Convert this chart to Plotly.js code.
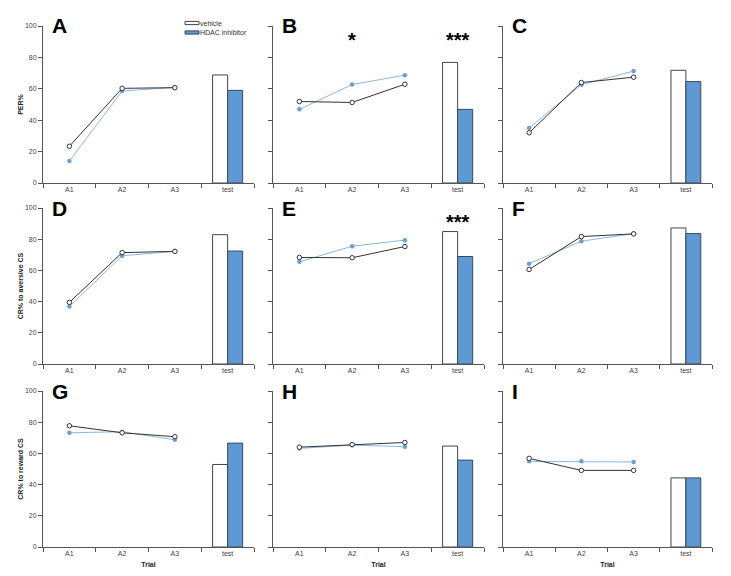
<!DOCTYPE html>
<html><head><meta charset="utf-8">
<script src="https://cdn.plot.ly/plotly-3.0.1.min.js"></script>
<style>html,body{margin:0;padding:0;background:#fff}#chart{width:731px;height:576px}</style>
</head><body><div id="chart"></div>
<script>
// ---- data ----
const trials = ['A1', 'A2', 'A3'];
const testLabel = ['test'];
const categories = ['A1', 'A2', 'A3', 'test'];
const panelLabels = ['A', 'B', 'C', 'D', 'E', 'F', 'G', 'H', 'I'];
const vehicleTrials = [
  [23.4, 60.3, 60.7],
  [51.9, 51.3, 62.9],
  [32.0, 64.0, 67.4],
  [39.5, 71.4, 72.2],
  [68.3, 68.1, 75.3],
  [60.6, 81.7, 83.4],
  [77.7, 73.2, 70.7],
  [64.0, 65.7, 67.0],
  [56.8, 49.1, 49.1]
];
const hdacTrials = [
  [14.0, 58.6, 60.9],
  [46.9, 62.7, 68.7],
  [35.1, 62.6, 71.3],
  [36.8, 69.4, 72.2],
  [65.5, 75.5, 79.4],
  [64.3, 78.7, 83.6],
  [73.2, 73.9, 68.7],
  [63.2, 65.3, 64.3],
  [54.9, 54.9, 54.5]
];
const vehicleTest = [68.8, 76.8, 71.8, 82.9, 84.9, 87.2, 52.9, 64.7, 44.3];
const hdacTest = [59.0, 46.9, 64.6, 72.4, 68.9, 83.6, 66.6, 55.7, 44.3];
const seriesNames = ['vehicle', 'HDAC inhibitor'];
const yTitles = ['PER%', 'CR% to aversive CS', 'CR% to reward CS'];
const xTitle = 'Trial';
const yTicks = [0, 20, 40, 60, 80, 100];
const significance = [
  {panel: 1, x: 'A2', text: '*'},
  {panel: 1, x: 'test', text: '***'},
  {panel: 4, x: 'test', text: '***'}
];

// ---- styles / geometry ----
const W = 731, H = 576;
const colPx = [[43, 254], [273, 484], [503, 712]];
const rowPx = [[26, 183], [208, 364], [391, 547]];
const FONT = 'Liberation Sans, Arial, sans-serif';
const axisColor = '#555';
const tickFontColor = '#444';
const vehicleFill = '#ffffff', vehicleEdge = '#444444';
const hdacFill = '#5f99d4', hdacEdge = '#3a4a5a';

const traces = [];
const layout = {
  width: W, height: H,
  margin: {l: 0, r: 0, t: 0, b: 0},
  paper_bgcolor: '#fff', plot_bgcolor: '#fff',
  barmode: 'group', bargap: 0.43, bargroupgap: 0,
  showlegend: false,
  font: {family: FONT},
  annotations: [],
  shapes: [],
  hovermode: false
};

for (let p = 0; p < 9; p++) {
  const r = Math.floor(p / 3), c = p % 3;
  const ax = p === 0 ? '' : String(p + 1);
  const xa = 'x' + ax, ya = 'y' + ax;
  const xDom = [colPx[c][0] / W, colPx[c][1] / W];
  const yDom = [1 - rowPx[r][1] / H, 1 - rowPx[r][0] / H];

  layout['xaxis' + ax] = {
    domain: xDom, anchor: ya, type: 'category',
    categoryorder: 'array', categoryarray: categories,
    range: [-0.5, 3.5], tickson: 'boundaries',
    ticks: 'outside', ticklen: 4, tickcolor: axisColor, tickwidth: 1,
    showline: true, linecolor: axisColor, linewidth: 1,
    showgrid: false, zeroline: false, fixedrange: true,
    tickfont: {family: FONT, size: 7, color: tickFontColor},
    title: r === 2 ? {text: '<b>' + xTitle + '</b>', font: {family: FONT, size: 7, color: '#222'}, standoff: 5} : {text: ''}
  };
  layout['yaxis' + ax] = {
    domain: yDom, anchor: xa, range: [0, 100],
    tickvals: yTicks, ticks: 'outside', ticklen: 4, tickcolor: axisColor, tickwidth: 1,
    showline: true, linecolor: axisColor, linewidth: 1,
    showgrid: false, zeroline: false, fixedrange: true,
    showticklabels: c === 0,
    tickfont: {family: FONT, size: 7, color: tickFontColor},
    title: c === 0 ? {text: '<b>' + yTitles[r] + '</b>', font: {family: FONT, size: 7, color: '#222'}, standoff: 0} : {text: ''}
  };

  traces.push({
    type: 'scatter', mode: 'lines+markers', x: trials, y: hdacTrials[p],
    xaxis: xa, yaxis: ya, name: seriesNames[1], cliponaxis: false,
    line: {color: '#8fb6e2', width: 1},
    marker: {size: 4.5, color: '#6a9fd8', line: {width: 0}}
  });
  traces.push({
    type: 'scatter', mode: 'lines+markers', x: trials, y: vehicleTrials[p],
    xaxis: xa, yaxis: ya, name: seriesNames[0], cliponaxis: false,
    line: {color: '#333', width: 1},
    marker: {size: 4.5, color: '#fff', line: {width: 1, color: '#333'}}
  });
  traces.push({
    type: 'bar', x: testLabel, y: [vehicleTest[p]], name: seriesNames[0],
    xaxis: xa, yaxis: ya,
    marker: {color: vehicleFill, line: {color: vehicleEdge, width: 1}}
  });
  traces.push({
    type: 'bar', x: testLabel, y: [hdacTest[p]], name: seriesNames[1],
    xaxis: xa, yaxis: ya,
    marker: {color: hdacFill, line: {color: hdacEdge, width: 1}}
  });

  layout.annotations.push({
    xref: xa + ' domain', yref: ya + ' domain', x: 0.035, y: 1.0,
    xanchor: 'left', yanchor: 'middle', showarrow: false,
    text: '<b>' + panelLabels[p] + '</b>',
    font: {family: FONT, size: 21, color: '#000'}
  });
}

significance.forEach(s => {
  const ax = s.panel === 0 ? '' : String(s.panel + 1);
  layout.annotations.push({
    xref: 'x' + ax, yref: 'y' + ax, x: s.x, y: 91,
    xanchor: 'center', yanchor: 'middle', showarrow: false,
    text: '<b>' + s.text + '</b>',
    font: {family: FONT, size: 20, color: '#000'}
  });
});

// ---- legend (flat swatches, as in the original figure) ----
const legendItems = [
  {name: seriesNames[0], fill: vehicleFill, edge: vehicleEdge, yPx: 23},
  {name: seriesNames[1], fill: hdacFill, edge: hdacEdge, yPx: 32.5}
];
legendItems.forEach(it => {
  layout.shapes.push({
    type: 'rect', xref: 'paper', yref: 'paper',
    x0: 185 / W, x1: 199 / W, y0: 1 - (it.yPx + 1.6) / H, y1: 1 - (it.yPx - 1.6) / H,
    fillcolor: it.fill, line: {color: it.edge, width: 1}
  });
  layout.annotations.push({
    xref: 'paper', yref: 'paper', x: 199 / W, y: 1 - it.yPx / H,
    xanchor: 'left', yanchor: 'middle', showarrow: false, borderpad: 0,
    text: it.name, font: {family: FONT, size: 7, color: '#333'}
  });
});

Plotly.newPlot('chart', traces, layout, {displayModeBar: false, staticPlot: true});
</script></body></html>
